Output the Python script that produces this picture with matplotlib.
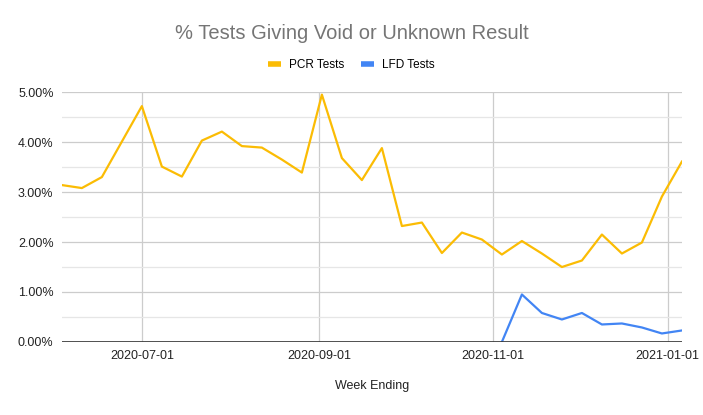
import matplotlib
matplotlib.use("Agg")
import matplotlib.pyplot as plt
import matplotlib.dates as mdates
from matplotlib.ticker import MultipleLocator, FuncFormatter
import numpy as np

plt.rcParams["font.family"] = ["Liberation Sans", "DejaVu Sans"]

# weekly data, week ending Wednesday
weeks = np.arange(np.datetime64("2020-06-03"), np.datetime64("2021-01-07"),
                  np.timedelta64(7, "D"))
pcr = [3.14, 3.08, 3.30, 4.01, 4.72, 3.51, 3.31, 4.03, 4.21, 3.92,
       3.89, 3.65, 3.39, 4.95, 3.68, 3.24, 3.88, 2.32, 2.39, 1.78,
       2.19, 2.05, 1.75, 2.02, 1.77, 1.50, 1.63, 2.15, 1.77, 1.99,
       2.91, 3.61]
lfd_weeks = weeks[22:]
lfd = [0.0, 0.95, 0.58, 0.45, 0.58, 0.35, 0.37, 0.29, 0.17, 0.23]
xticks = ["2020-07-01", "2020-09-01", "2020-11-01", "2021-01-01"]

PCR_C = "#FBBC04"
LFD_C = "#4285F4"

fig = plt.figure(figsize=(7.03, 4.15), dpi=100)
ax = fig.add_axes([0.088, 0.176, 0.882, 0.602])

ax.plot(weeks, pcr, color=PCR_C, lw=1.6, label="PCR Tests", zorder=3)
ax.plot(lfd_weeks, lfd, color=LFD_C, lw=1.6, label="LFD Tests", zorder=3)

ax.set_xlim(weeks[0], weeks[-1])
ax.set_ylim(0, 5)
ax.yaxis.set_major_locator(MultipleLocator(1))
ax.yaxis.set_minor_locator(MultipleLocator(0.5))
ax.yaxis.set_major_formatter(FuncFormatter(lambda v, p: f"{v:.2f}%"))
ax.set_xticks([np.datetime64(d) for d in xticks])
ax.xaxis.set_major_formatter(mdates.DateFormatter("%Y-%m-%d"))

ax.grid(True, which="major", color="#cccccc", lw=0.9)
ax.grid(True, which="minor", axis="y", color="#e6e6e6", lw=0.9)
for s in ax.spines.values():
    s.set_visible(False)
ax.axhline(0, color="#333333", lw=1.2, zorder=4)
ax.tick_params(axis="both", which="both", length=0, labelsize=9,
               labelcolor="#222222")
ax.tick_params(axis="y", pad=6)
ax.tick_params(axis="x", pad=6)

ax.set_xlabel("Week Ending", fontsize=9, color="#222222", labelpad=13)
fig.text(0.5, 0.92, "% Tests Giving Void or Unknown Result", ha="center",
         va="center", fontsize=14.5, color="#757575")

leg = fig.legend(loc="center", bbox_to_anchor=(0.5, 0.843), ncol=2,
                 frameon=False, fontsize=8.5, handlelength=1.1,
                 handletextpad=0.7, columnspacing=1.4)
for h in leg.legend_handles:
    h.set_linewidth(4)
    h.set_solid_capstyle("butt")

fig.savefig("out.png", dpi=100)
